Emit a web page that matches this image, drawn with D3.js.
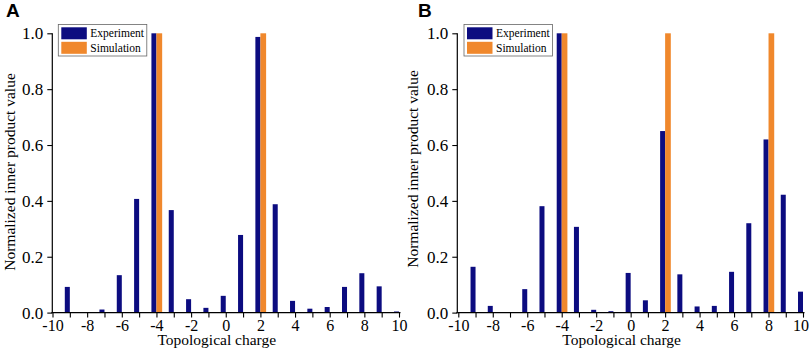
<!DOCTYPE html>
<html>
<head>
<meta charset="utf-8">
<script src="https://cdn.jsdelivr.net/npm/d3@7"></script>
<style>
  body { margin: 0; background: #fff; }
  svg { display: block; }
  text { font-family: "Liberation Serif", "Times New Roman", serif; fill: #000; }
</style>
</head>
<body>
<svg id="chart" width="809" height="352"></svg>
<script>
// topological charges on the x axis
const charges = [-9, -8, -7, -6, -5, -4, -3, -2, -1, 0, 1, 2, 3, 4, 5, 6, 7, 8, 9, 10];

// panel A
const expA = [0.092, 0, 0.011, 0.134, 0.407, 1.0, 0.367, 0.048, 0.017, 0.060,
              0.278, 0.987, 0.388, 0.042, 0.014, 0.020, 0.092, 0.141, 0.094, 0.004];
const simChargesA = [-4, 2];
const simValuesA = [1.0, 1.0];

// panel B
const expB = [0.164, 0.024, 0, 0.084, 0.381, 1.0, 0.307, 0.010, 0.005, 0.142,
              0.044, 0.650, 0.137, 0.022, 0.024, 0.146, 0.320, 0.620, 0.422, 0.075];
const simChargesB = [-4, 2, 8];
const simValuesB = [1.0, 1.0, 1.0];

const xTicks = d3.range(-10, 11);
const yTicks = [0, 0.2, 0.4, 0.6, 0.8, 1.0];
const seriesNames = ["Experiment", "Simulation"];
const colors = ["#0c0c80", "#f0882c"];

const svg = d3.select("#chart");
const expW = 0.29, simW = 0.33;

function drawPanel(p) {
  const g = svg.append("g");
  const x = d3.scaleLinear().domain([-10, 10]).range([p.x0, p.x1]);
  const y = d3.scaleLinear().domain([0, 1]).range([312.6, 33.3]);

  // experiment bars, left of each tick
  g.selectAll(".exp")
    .data(charges.map((c, i) => ({ c, v: p.exp[i] })).filter(d => d.v > 0))
    .enter().append("rect")
    .attr("x", d => x(d.c - expW))
    .attr("width", d => x(d.c) - x(d.c - expW))
    .attr("y", d => y(d.v))
    .attr("height", d => y(0) - y(d.v))
    .attr("fill", colors[0]);

  // simulation bars, right of each tick
  g.selectAll(".sim")
    .data(p.simC.map((c, i) => ({ c, v: p.simV[i] })))
    .enter().append("rect")
    .attr("x", d => x(d.c))
    .attr("width", d => x(d.c + simW) - x(d.c))
    .attr("y", d => y(d.v))
    .attr("height", d => y(0) - y(d.v))
    .attr("fill", colors[1]);

  // x axis: tick at every charge, label every second one (plain hyphen)
  const xAxis = g.append("g")
    .attr("transform", `translate(0,${y(0)})`)
    .call(d3.axisBottom(x).tickValues(xTicks).tickSize(5).tickPadding(2)
      .tickFormat(d => String(d)));
  xAxis.select(".domain").remove();
  xAxis.selectAll(".tick line").attr("stroke-width", 1.1);
  xAxis.selectAll(".tick text").filter(d => d % 2 !== 0).remove();
  xAxis.selectAll(".tick text")
    .style("font-size", "16px").attr("fill", "#000")
    .style("font-family", "'Liberation Serif', serif")
    .filter(d => d === 10).attr("dx", p.lastDx);
  g.append("line")
    .attr("x1", p.yAxisX - 1).attr("x2", x(10) + 1.5)
    .attr("y1", y(0)).attr("y2", y(0))
    .attr("stroke", "#000").attr("stroke-width", 1.2);

  // y axis
  const yAxis = g.append("g")
    .attr("transform", `translate(${p.yAxisX},0)`)
    .call(d3.axisLeft(y).tickValues(yTicks).tickSize(5).tickPadding(4)
      .tickFormat(d3.format(".1f")));
  yAxis.select(".domain").remove();
  yAxis.selectAll(".tick line").attr("stroke-width", 1.1);
  yAxis.selectAll("text").style("font-size", "17px").attr("fill", "#000")
    .style("font-family", "'Liberation Serif', serif");
  g.append("line")
    .attr("x1", p.yAxisX).attr("x2", p.yAxisX)
    .attr("y1", y(0)).attr("y2", y(1))
    .attr("stroke", "#000").attr("stroke-width", 1.2);

  // axis titles
  g.append("text")
    .attr("x", x(0) - 9).attr("y", 344.5)
    .attr("text-anchor", "middle")
    .style("font-size", "15.5px")
    .text("Topological charge");
  g.append("text")
    .attr("transform", `translate(${p.yLabelX},${p.yLabelY}) rotate(-90)`)
    .attr("text-anchor", "middle")
    .style("font-size", "15.5px")
    .text("Normalized inner product value");

  // panel letter
  g.append("text")
    .attr("x", p.letterX).attr("y", 17)
    .style("font-family", "'Liberation Sans', Arial, sans-serif")
    .style("font-weight", "bold")
    .style("font-size", "19px")
    .text(p.letter);

  // legend
  const lg = g.append("g").attr("transform", `translate(${p.legX},24.5)`);
  lg.append("rect")
    .attr("width", 88.5).attr("height", 31.5)
    .attr("fill", "#fff").attr("stroke", "#666").attr("stroke-width", 0.8);
  seriesNames.forEach((name, i) => {
    lg.append("rect")
      .attr("x", 3).attr("y", 2.8 + i * 14.5)
      .attr("width", 25.5).attr("height", 12)
      .attr("fill", colors[i]);
    lg.append("text")
      .attr("x", 32).attr("y", 12.5 + i * 14.5)
      .style("font-size", "11.5px")
      .text(name);
  });
}

drawPanel({ letter: "A", letterX: 6, x0: 52.5, x1: 399, yAxisX: 52.3, lastDx: 0,
            exp: expA, simC: simChargesA, simV: simValuesA,
            legX: 58.3, yLabelX: 15, yLabelY: 172 });
drawPanel({ letter: "B", letterX: 418, x0: 458.3, x1: 803, yAxisX: 457.3, lastDx: -2.5,
            exp: expB, simC: simChargesB, simV: simValuesB,
            legX: 464, yLabelX: 418, yLabelY: 169 });
</script>
</body>
</html>
